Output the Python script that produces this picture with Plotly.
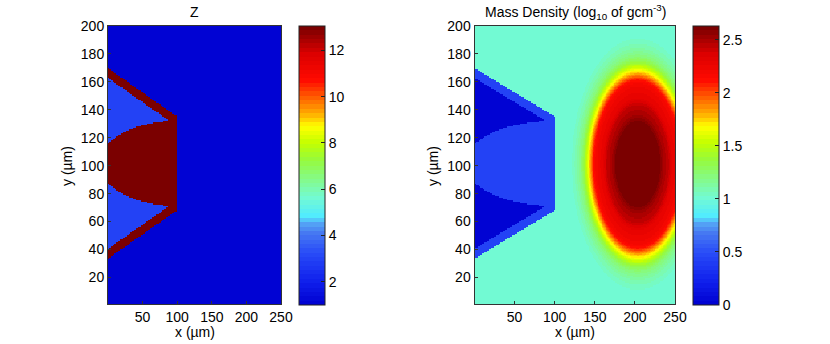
import numpy as np
import plotly.graph_objects as go
from plotly.colors import find_intermediate_color, unlabel_rgb, label_rgb

# ---- values ----
X_TICKS = [50, 100, 150, 200, 250]
Y_TICKS = [20, 40, 60, 80, 100, 120, 140, 160, 180, 200]
Z_CBAR_TICKS = [2, 4, 6, 8, 10, 12]
RHO_CBAR_TICKS = [0, 0.5, 1, 1.5, 2, 2.5]
RHO_CBAR_TEXT = ["0", "0.5", "1", "1.5", "2", "2.5"]

# target geometry (um)
CONE_X = [0, 100]
CONE_OUTER_HALF = [68.3, 33.5]   # half height of the cone outer wall
CONE_AXIS_Y = 101.5
WALL = 7.0
LENS_XC, LENS_A, LENS_B = 100.0, 112.0, 30.5

# atomic number per region
Z_BG, Z_CONE_FILL, Z_WALL = 1.0, 3.0, 13.0
# log10 density per region
RHO_CONE_FILL, RHO_WALL = 0.0, 0.45

# compressed blob: centre, vertical stretch, radial profile of log10 density
BLOB_X, BLOB_Y, BLOB_STRETCH_Y = 203.0, 101.0, 1.1
BLOB_R = [0, 28, 31, 39, 43, 52, 55, 57, 59, 61, 63, 66, 70, 76, 84, 95]
BLOB_RHO = [2.63, 2.595, 2.52, 2.42, 2.3, 2.2, 2.1, 1.95, 1.8, 1.68, 1.55, 1.38, 1.22, 1.1, 1.0, 1.0]

Z_RANGE = [1, 13.05]
RHO_RANGE = [0, 2.63]

# colormap as shown on the colorbars (64 bands like MATLAB)
CMAP_STOPS = [0.0, 0.08, 0.185, 0.257, 0.293, 0.317, 0.385, 0.52, 0.58, 0.64, 0.687, 0.747, 0.806, 0.9, 1.0]
CMAP_COLORS = ["rgb(0,0,208)", "rgb(15,30,235)", "rgb(40,75,248)", "rgb(70,120,242)",
               "rgb(85,165,245)", "rgb(80,235,255)", "rgb(115,250,210)", "rgb(150,250,60)",
               "rgb(195,255,0)", "rgb(255,255,0)", "rgb(255,170,0)", "rgb(255,90,0)",
               "rgb(255,10,0)", "rgb(220,0,0)", "rgb(115,0,0)"]
N_BANDS = 64


def banded_colorscale(stops, colors, n):
    out = []
    for i in range(n):
        f = (i + 0.5) / n
        k = min(np.searchsorted(stops, f) - 1, len(stops) - 2)
        k = max(k, 0)
        t = (f - stops[k]) / (stops[k + 1] - stops[k])
        c = find_intermediate_color(unlabel_rgb(colors[k]), unlabel_rgb(colors[k + 1]), t)
        c = label_rgb(tuple(int(round(v)) for v in c))
        out.append([i / n, c])
        out.append([(i + 1) / n, c])
    return out


CMAP = banded_colorscale(CMAP_STOPS, CMAP_COLORS, N_BANDS)

# ---- build the maps ----
xc = np.arange(0.5, 250, 1.0)
yc = np.arange(0.5, 200, 1.0)
X, Y = np.meshgrid(xc, yc)
dy = np.abs(Y - CONE_AXIS_Y)
outer_half = np.interp(X, CONE_X, CONE_OUTER_HALF)
cone = (X <= 100) & (dy <= outer_half)
cone_fill = cone & (dy <= outer_half - WALL)
lens = (X <= 100) & (((X - LENS_XC) / LENS_A) ** 2 + (dy / LENS_B) ** 2 <= 1)

z_map = np.full(X.shape, Z_BG)
z_map[cone] = Z_WALL
z_map[cone_fill] = Z_CONE_FILL
z_map[lens] = Z_WALL

r = np.hypot(X - BLOB_X, (Y - BLOB_Y) / BLOB_STRETCH_Y)
rho_map = np.interp(r, BLOB_R, BLOB_RHO)
rho_map[cone] = RHO_WALL
rho_map[cone_fill] = RHO_CONE_FILL
rho_map[lens] = RHO_WALL

W, H = 830, 344
FONT = "Liberation Sans, Arial, sans-serif"
FS = 14

fig = go.Figure()

# left plot: 108..281 px, right plot: 474..675 px, both 26..304 px vertically
left_dom = [108 / W, 281 / W]
right_dom = [474.5 / W, 675 / W]
ydom = [1 - 304 / H, 1 - 26 / H]
cb_len = 279
cb_y = 1 - (26 + 305) / 2 / H

fig.add_trace(go.Heatmap(
    x=xc, y=yc, z=z_map, colorscale=CMAP, zmin=Z_RANGE[0], zmax=Z_RANGE[1],
    xaxis="x", yaxis="y", hoverinfo="skip",
    colorbar=dict(x=299 / W, xanchor="left", y=cb_y, yanchor="middle",
                  lenmode="pixels", len=cb_len, thickness=26,
                  xpad=0, ypad=0, outlinewidth=1, outlinecolor="#222",
                  tickvals=Z_CBAR_TICKS, ticks="inside", ticklen=4, tickcolor="#222",
                  tickfont=dict(size=FS, color="black", family=FONT)),
))
fig.add_trace(go.Heatmap(
    x=xc, y=yc, z=rho_map, colorscale=CMAP, zmin=RHO_RANGE[0], zmax=RHO_RANGE[1],
    xaxis="x2", yaxis="y2", hoverinfo="skip",
    colorbar=dict(x=693 / W, xanchor="left", y=cb_y, yanchor="middle",
                  lenmode="pixels", len=cb_len, thickness=26,
                  xpad=0, ypad=0, outlinewidth=1, outlinecolor="#222",
                  tickvals=RHO_CBAR_TICKS, ticktext=RHO_CBAR_TEXT,
                  ticks="inside", ticklen=4, tickcolor="#222",
                  tickfont=dict(size=FS, color="black", family=FONT)),
))

axis_style = dict(showline=True, mirror=True, linecolor="#333", linewidth=1,
                  ticks="inside", ticklen=3, tickcolor="#333", showgrid=False,
                  zeroline=False, tickfont=dict(size=FS, color="black", family=FONT))

fig.update_layout(
    width=W, height=H, margin=dict(l=0, r=0, t=0, b=0, autoexpand=False),
    paper_bgcolor="white", plot_bgcolor="white",
    xaxis=dict(domain=left_dom, range=[0, 250], tickvals=X_TICKS, anchor="y", **axis_style),
    yaxis=dict(domain=ydom, range=[1, 200], tickvals=Y_TICKS, anchor="x", **axis_style),
    xaxis2=dict(domain=right_dom, range=[0, 250], tickvals=X_TICKS, anchor="y2", **axis_style),
    yaxis2=dict(domain=ydom, range=[1, 200], tickvals=Y_TICKS, anchor="x2", **axis_style),
    font=dict(family=FONT, size=FS, color="black"),
)

txt = dict(xref="paper", yref="paper", showarrow=False, xanchor="center", yanchor="middle",
           font=dict(size=FS, color="black", family=FONT))
fig.add_annotation(x=194.5 / W, y=1 - 12 / H, text="Z", **txt)
fig.add_annotation(x=575 / W, y=1 - 12 / H, text="Mass Density (log<sub>10</sub> of gcm<sup>-3</sup>)", **txt)
fig.add_annotation(x=194.5 / W, y=1 - 332 / H, text="x (\u00b5m)", **txt)
fig.add_annotation(x=575 / W, y=1 - 332 / H, text="x (\u00b5m)", **txt)
fig.add_annotation(x=67 / W, y=1 - 166 / H, text="y (\u00b5m)", textangle=-90, **txt)
fig.add_annotation(x=433 / W, y=1 - 166 / H, text="y (\u00b5m)", textangle=-90, **txt)

# the page's default 8px body margin would shift the whole figure
fig.write_html("out.html", config={"displayModeBar": False},
               post_script="document.body.style.margin='0';")
